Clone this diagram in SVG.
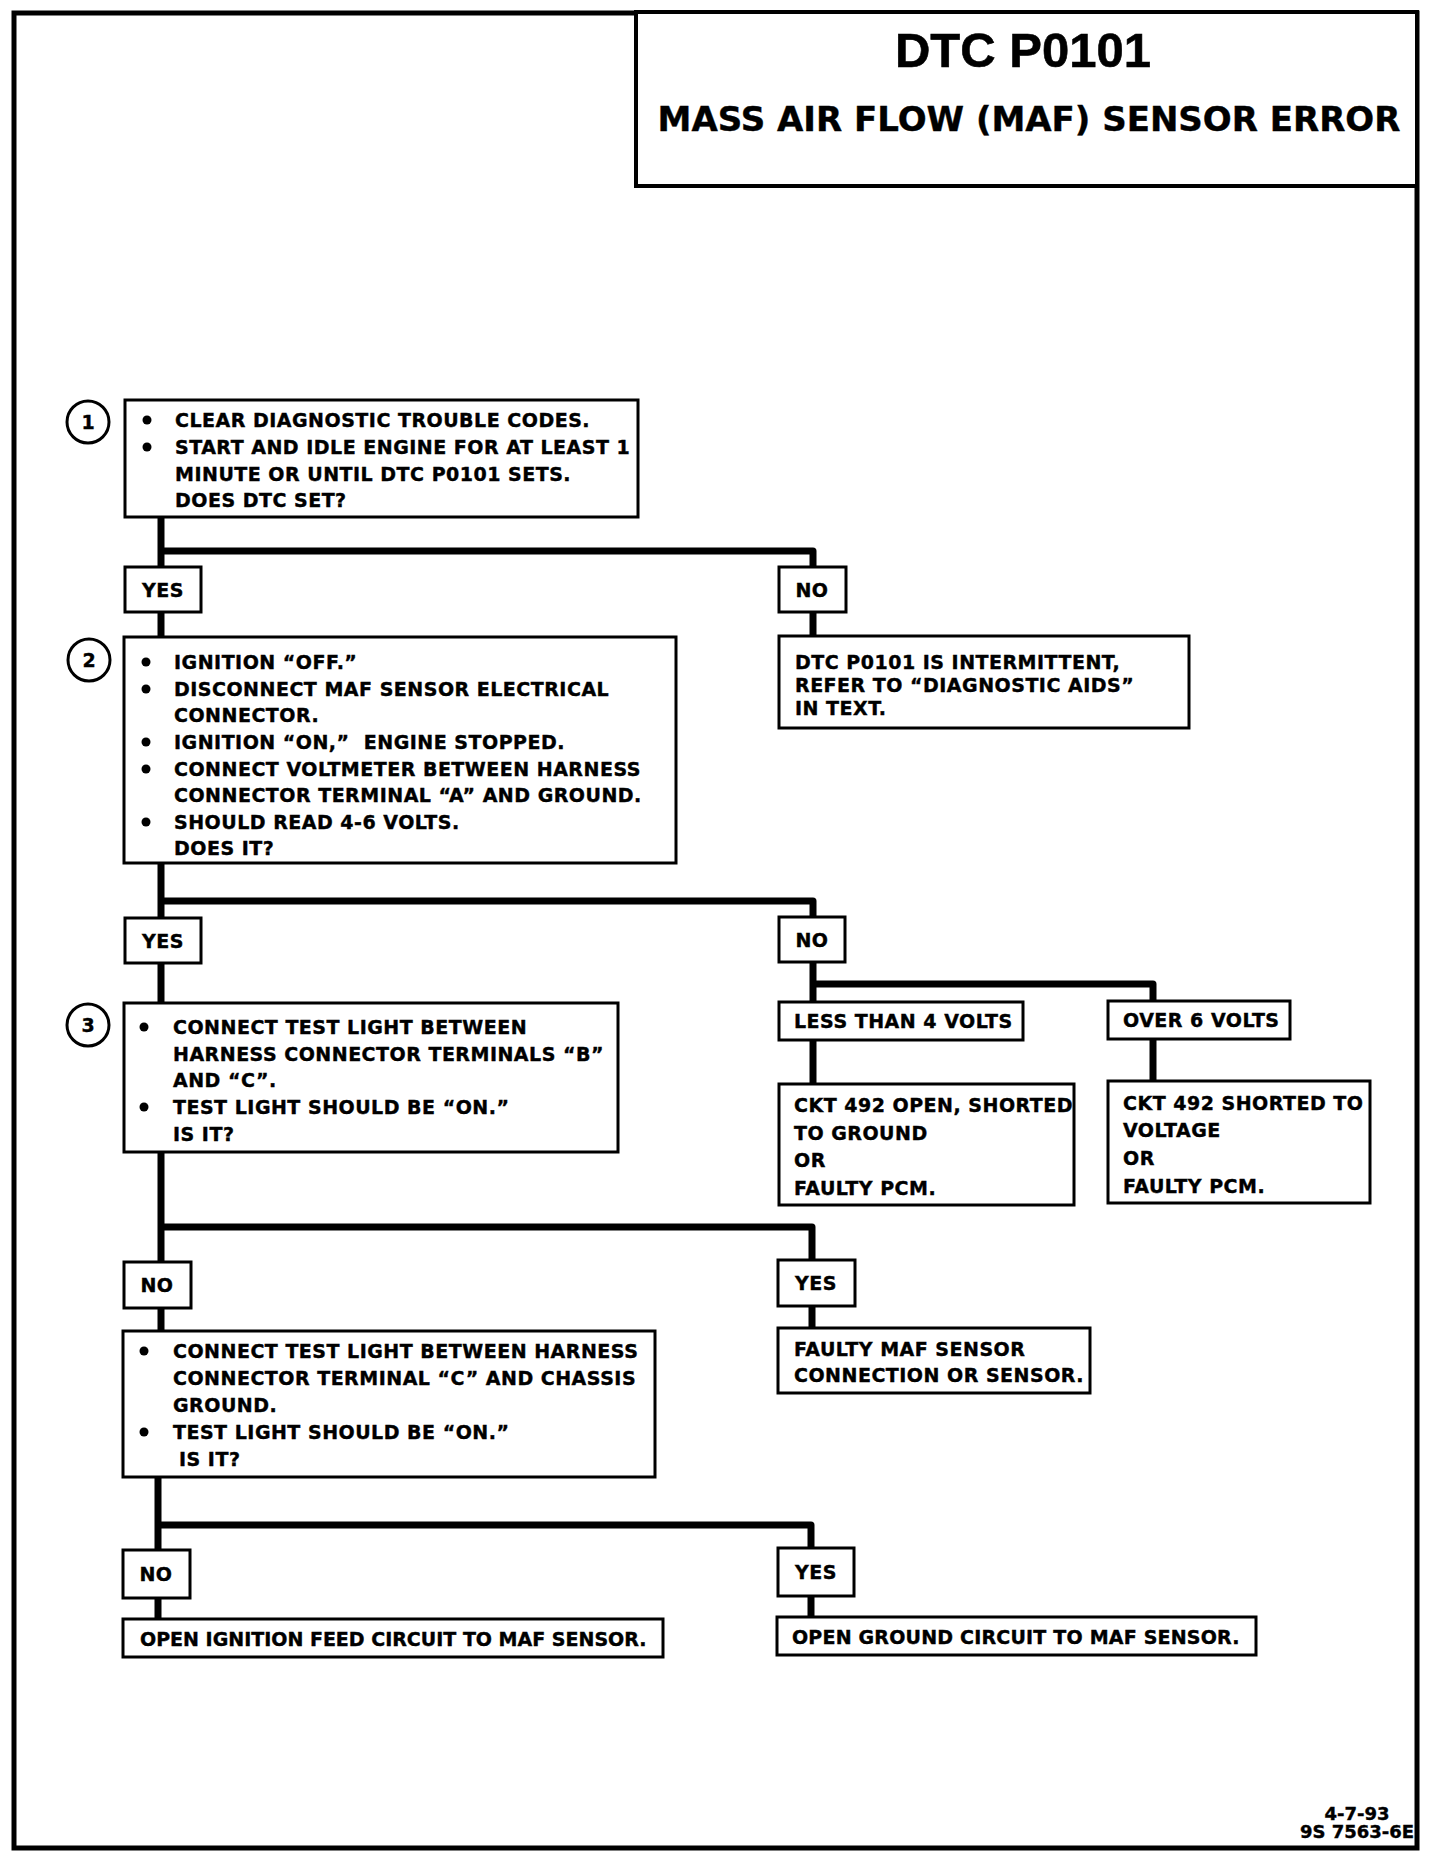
<svg xmlns="http://www.w3.org/2000/svg" width="1440" height="1870" viewBox="0 0 1440 1870">
<style>
.bx{fill:#fff;stroke:#000;stroke-width:3}
.t{font-family:"DejaVu Sans","Liberation Sans",sans-serif;font-weight:bold;font-size:19px;fill:#000;stroke:#000;stroke-width:0.4;letter-spacing:0.5px}
.c{text-anchor:middle}
.w{fill:none;stroke:#000;stroke-width:7;stroke-linejoin:round;stroke-linecap:butt}
.num{fill:#fff;stroke:#000;stroke-width:3}
.dot{fill:#000}
</style>
<rect width="1440" height="1870" fill="#fff"/>
<g id="frame">
<rect x="14" y="13" width="1403" height="1835" fill="none" stroke="#000" stroke-width="5"/>
</g>
<g id="title">
<rect x="636" y="12" width="781" height="174" fill="#fff" stroke="#000" stroke-width="4"/>
<text x="1023" y="67" class="c" font-family="Liberation Sans, Arial, sans-serif" font-weight="bold" font-size="49" stroke="#000" stroke-width="0.6">DTC P0101</text>
<text x="1029" y="131" class="t c" style="font-size:34px;letter-spacing:0">MASS AIR FLOW (MAF) SENSOR ERROR</text>
</g>
<g id="connectors">
<path class="w" d="M161,517 V637"/>
<path class="w" d="M161,551 H813 V636"/>
<path class="w" d="M161,863 V1003"/>
<path class="w" d="M161,901 H813 V1002"/>
<path class="w" d="M813,984 H1153 V1001"/>
<path class="w" d="M813,1040 V1084"/>
<path class="w" d="M1153,1039 V1081"/>
<path class="w" d="M161,1152 V1331"/>
<path class="w" d="M161,1227 H812 V1328"/>
<path class="w" d="M158,1477 V1619"/>
<path class="w" d="M158,1525 H811 V1617"/>
</g>
<g id="step1">
<circle class="num" cx="88" cy="422" r="21"/>
<text x="88" y="429" class="t c" style="letter-spacing:0">1</text>
<rect class="bx" x="125" y="400" width="513" height="117"/>
<circle class="dot" cx="147" cy="420" r="4.5"/>
<circle class="dot" cx="147" cy="447" r="4.5"/>
<text class="t" x="175" y="427">CLEAR DIAGNOSTIC TROUBLE CODES.</text>
<text class="t" x="175" y="454">START AND IDLE ENGINE FOR AT LEAST 1</text>
<text class="t" x="175" y="481">MINUTE OR UNTIL DTC P0101 SETS.</text>
<text class="t" x="175" y="507">DOES DTC SET?</text>
</g>
<g id="yes1">
<rect class="bx" x="125" y="567" width="76" height="45"/>
<text class="t c" x="163" y="597">YES</text>
</g>
<g id="no1">
<rect class="bx" x="779" y="567" width="67" height="45"/>
<text class="t c" x="812" y="597">NO</text>
</g>
<g id="intermittent">
<rect class="bx" x="779" y="636" width="410" height="92"/>
<text class="t" x="795" y="669">DTC P0101 IS INTERMITTENT,</text>
<text class="t" x="795" y="692">REFER TO “DIAGNOSTIC AIDS”</text>
<text class="t" x="795" y="715">IN TEXT.</text>
</g>
<g id="step2">
<circle class="num" cx="89" cy="660" r="21"/>
<text x="89" y="667" class="t c" style="letter-spacing:0">2</text>
<rect class="bx" x="124" y="637" width="552" height="226"/>
<circle class="dot" cx="146" cy="662" r="4.5"/>
<circle class="dot" cx="146" cy="689" r="4.5"/>
<circle class="dot" cx="146" cy="742" r="4.5"/>
<circle class="dot" cx="146" cy="769" r="4.5"/>
<circle class="dot" cx="146" cy="822" r="4.5"/>
<text class="t" x="174" y="669">IGNITION “OFF.”</text>
<text class="t" x="174" y="696">DISCONNECT MAF SENSOR ELECTRICAL</text>
<text class="t" x="174" y="722">CONNECTOR.</text>
<text class="t" x="174" y="749" xml:space="preserve">IGNITION “ON,”  ENGINE STOPPED.</text>
<text class="t" x="174" y="776">CONNECT VOLTMETER BETWEEN HARNESS</text>
<text class="t" x="174" y="802">CONNECTOR TERMINAL “A” AND GROUND.</text>
<text class="t" x="174" y="829">SHOULD READ 4-6 VOLTS.</text>
<text class="t" x="174" y="855">DOES IT?</text>
</g>
<g id="yes2">
<rect class="bx" x="125" y="918" width="76" height="45"/>
<text class="t c" x="163" y="948">YES</text>
</g>
<g id="no2">
<rect class="bx" x="779" y="917" width="66" height="45"/>
<text class="t c" x="812" y="947">NO</text>
</g>
<g id="less4">
<rect class="bx" x="779" y="1002" width="244" height="38"/>
<text class="t" x="794" y="1028">LESS THAN 4 VOLTS</text>
</g>
<g id="over6">
<rect class="bx" x="1108" y="1001" width="182" height="38"/>
<text class="t" x="1123" y="1027">OVER 6 VOLTS</text>
</g>
<g id="ckt-open">
<rect class="bx" x="779" y="1084" width="295" height="121"/>
<text class="t" x="794" y="1112">CKT 492 OPEN, SHORTED</text>
<text class="t" x="794" y="1140">TO GROUND</text>
<text class="t" x="794" y="1167">OR</text>
<text class="t" x="794" y="1195">FAULTY PCM.</text>
</g>
<g id="ckt-shorted">
<rect class="bx" x="1108" y="1081" width="262" height="122"/>
<text class="t" x="1123" y="1110">CKT 492 SHORTED TO</text>
<text class="t" x="1123" y="1137">VOLTAGE</text>
<text class="t" x="1123" y="1165">OR</text>
<text class="t" x="1123" y="1193">FAULTY PCM.</text>
</g>
<g id="step3">
<circle class="num" cx="88" cy="1025" r="21"/>
<text x="88" y="1032" class="t c" style="letter-spacing:0">3</text>
<rect class="bx" x="124" y="1003" width="494" height="149"/>
<circle class="dot" cx="144" cy="1027" r="4.5"/>
<circle class="dot" cx="144" cy="1107" r="4.5"/>
<text class="t" x="173" y="1034">CONNECT TEST LIGHT BETWEEN</text>
<text class="t" x="173" y="1061">HARNESS CONNECTOR TERMINALS “B”</text>
<text class="t" x="173" y="1087">AND “C”.</text>
<text class="t" x="173" y="1114">TEST LIGHT SHOULD BE “ON.”</text>
<text class="t" x="173" y="1141">IS IT?</text>
</g>
<g id="no3">
<rect class="bx" x="124" y="1262" width="67" height="46"/>
<text class="t c" x="157" y="1292">NO</text>
</g>
<g id="yes3">
<rect class="bx" x="778" y="1260" width="77" height="46"/>
<text class="t c" x="816" y="1290">YES</text>
</g>
<g id="faulty-maf">
<rect class="bx" x="778" y="1328" width="312" height="65"/>
<text class="t" x="794" y="1356">FAULTY MAF SENSOR</text>
<text class="t" x="794" y="1382">CONNECTION OR SENSOR.</text>
</g>
<g id="step4">
<rect class="bx" x="123" y="1331" width="532" height="146"/>
<circle class="dot" cx="144" cy="1351" r="4.5"/>
<circle class="dot" cx="144" cy="1432" r="4.5"/>
<text class="t" x="173" y="1358">CONNECT TEST LIGHT BETWEEN HARNESS</text>
<text class="t" x="173" y="1385">CONNECTOR TERMINAL “C” AND CHASSIS</text>
<text class="t" x="173" y="1412">GROUND.</text>
<text class="t" x="173" y="1439">TEST LIGHT SHOULD BE “ON.”</text>
<text class="t" x="179" y="1466">IS IT?</text>
</g>
<g id="no4">
<rect class="bx" x="123" y="1550" width="67" height="48"/>
<text class="t c" x="156" y="1581">NO</text>
</g>
<g id="yes4">
<rect class="bx" x="778" y="1548" width="76" height="48"/>
<text class="t c" x="816" y="1579">YES</text>
</g>
<g id="open-ign">
<rect class="bx" x="123" y="1619" width="540" height="38"/>
<text class="t" x="140" y="1646" style="letter-spacing:0">OPEN IGNITION FEED CIRCUIT TO MAF SENSOR.</text>
</g>
<g id="open-gnd">
<rect class="bx" x="777" y="1617" width="479" height="38"/>
<text class="t" x="792" y="1644" style="letter-spacing:0.2px">OPEN GROUND CIRCUIT TO MAF SENSOR.</text>
</g>
<g id="footer">
<text class="t c" x="1357" y="1820" style="font-size:18px;letter-spacing:0">4-7-93</text>
<text class="t c" x="1357" y="1838" style="font-size:18px;letter-spacing:0">9S 7563-6E</text>
</g>
</svg>
